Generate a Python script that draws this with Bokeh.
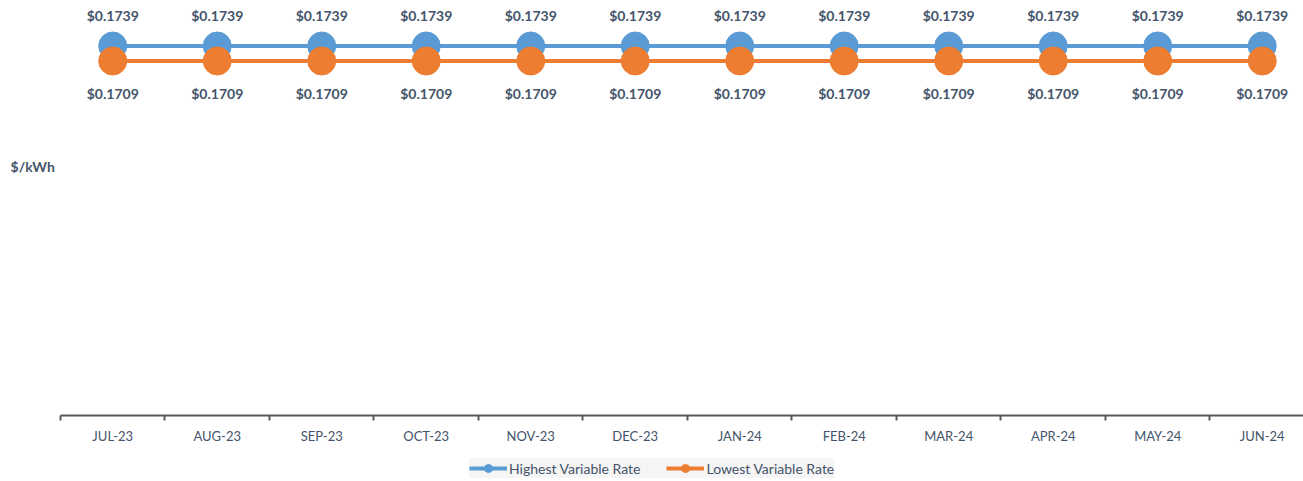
import numpy as np
from bokeh.plotting import figure
from bokeh.models import (Range1d, FixedTicker, ColumnDataSource, LabelSet, Label,
                          Legend, LegendItem)
from bokeh.core.properties import value
from bokeh.embed import file_html
from bokeh.resources import INLINE

months = ["JUL-23", "AUG-23", "SEP-23", "OCT-23", "NOV-23", "DEC-23",
          "JAN-24", "FEB-24", "MAR-24", "APR-24", "MAY-24", "JUN-24"]
highest = [0.1739] * 12
lowest = [0.1709] * 12
series_names = ["Highest Variable Rate", "Lowest Variable Rate"]
unit_label = "$/kWh"
axis_base = 0.1

BLUE = "#5B9BD5"
ORANGE = "#ED7D31"
TEXT = "#44546A"
AXIS = "#595959"
FONT = "Lato"

xs = list(range(len(months)))

p = figure(width=1303, height=481, output_backend="svg", toolbar_location=None,
           x_range=Range1d(-1.074, 11.395), y_range=Range1d(0.0868, 0.183),
           min_border_left=0, min_border_right=0, min_border_top=0,
           min_border_bottom=0)
p.outline_line_color = None
p.xgrid.visible = False
p.ygrid.visible = False
p.yaxis.visible = False

src_h = ColumnDataSource(dict(x=xs, y=highest, t=[f"${v:.4f}" for v in highest]))
src_l = ColumnDataSource(dict(x=xs, y=lowest, t=[f"${v:.4f}" for v in lowest]))

lh = p.line("x", "y", source=src_h, line_color=BLUE, line_width=4)
sh = p.scatter("x", "y", source=src_h, size=28, fill_color=BLUE, line_color=BLUE)
ll = p.line("x", "y", source=src_l, line_color=ORANGE, line_width=4)
sl = p.scatter("x", "y", source=src_l, size=28, fill_color=ORANGE, line_color=ORANGE)

for src, off in ((src_h, 31), (src_l, -32)):
    p.add_layout(LabelSet(x="x", y="y", text="t", source=src, y_offset=off,
                          text_align="center", text_baseline="middle",
                          text_font=value(FONT), text_font_size="14px",
                          text_font_style="bold", text_color=TEXT))

ax = p.xaxis[0]
ax.fixed_location = axis_base
ax.bounds = (-0.5, 11.395)
ax.ticker = FixedTicker(ticks=xs, minor_ticks=[i - 0.5 for i in range(len(months) + 1)])
ax.major_label_overrides = {i: m for i, m in enumerate(months)}
ax.major_tick_out = 0
ax.major_tick_in = 0
ax.minor_tick_in = 0
ax.minor_tick_out = 5
ax.minor_tick_line_color = AXIS
ax.minor_tick_line_width = 2
ax.axis_line_color = AXIS
ax.axis_line_width = 2
ax.major_label_standoff = 7
ax.major_label_text_font = FONT
ax.major_label_text_font_size = "13px"
ax.major_label_text_color = TEXT

p.add_layout(Label(x=-0.978, y=0.1498, text=unit_label,
                   text_align="left", text_baseline="middle", text_font=FONT,
                   text_font_size="14px", text_font_style="bold", text_color=TEXT))

legend = Legend(items=[LegendItem(label=series_names[0], renderers=[lh, sh]),
                       LegendItem(label=series_names[1], renderers=[ll, sl])],
                orientation="horizontal", location=(469, 3),
                glyph_width=38, glyph_height=20, label_standoff=2, spacing=26,
                padding=8, label_text_font=FONT, label_text_font_size="14px",
                label_text_color=TEXT, background_fill_color="#F2F2F2",
                background_fill_alpha=0.8, border_line_color=None)
p.add_layout(legend, "center")

open("out.html", "w").write(file_html(p, INLINE))
